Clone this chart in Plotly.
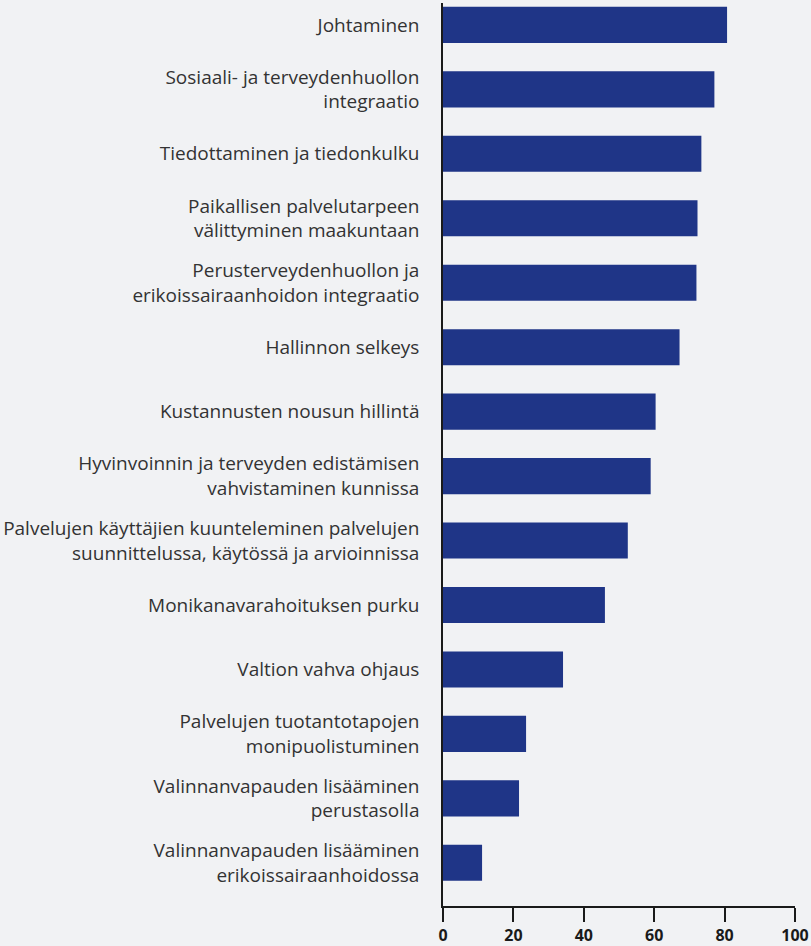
import plotly.graph_objects as go

categories = [
    "Johtaminen",
    "Sosiaali- ja terveydenhuollon<br>integraatio",
    "Tiedottaminen ja tiedonkulku",
    "Paikallisen palvelutarpeen<br>välittyminen maakuntaan",
    "Perusterveydenhuollon ja<br>erikoissairaanhoidon integraatio",
    "Hallinnon selkeys",
    "Kustannusten nousun hillintä",
    "Hyvinvoinnin ja terveyden edistämisen<br>vahvistaminen kunnissa",
    "Palvelujen käyttäjien kuunteleminen palvelujen<br>suunnittelussa, käytössä ja arvioinnissa",
    "Monikanavarahoituksen purku",
    "Valtion vahva ohjaus",
    "Palvelujen tuotantotapojen<br>monipuolistuminen",
    "Valinnanvapauden lisääminen<br>perustasolla",
    "Valinnanvapauden lisääminen<br>erikoissairaanhoidossa",
]
values = [80.7, 77.1, 73.4, 72.3, 72.0, 67.2, 60.4, 59.0, 52.5, 46.0, 34.1, 23.6, 21.6, 11.1]
x_ticks = [0, 20, 40, 60, 80, 100]

fig = go.Figure()
fig.add_trace(go.Bar(
    x=values, y=categories, orientation="h",
    marker=dict(color="#1f3587", line=dict(width=0)),
    width=0.56,
))

fig.update_layout(
    width=811, height=946,
    margin=dict(l=443, r=16, t=3, b=40),
    paper_bgcolor="#f1f2f4",
    plot_bgcolor="#f1f2f4",
    showlegend=False,
    font=dict(family="Open Sans, sans-serif", color="#2a2a2a"),
)
fig.update_yaxes(
    type="category", automargin=False,
    range=[13.67, -0.34],
    showline=True, linecolor="#1a1a1a", linewidth=1.5,
    showgrid=False, zeroline=False,
    ticks="", ticklabelstandoff=18,
    tickfont=dict(size=19, color="#333333"),
)
fig.update_xaxes(
    range=[0, 100], automargin=False,
    tickvals=x_ticks,
    showline=True, linecolor="#1a1a1a", linewidth=1.5,
    showgrid=False, zeroline=False,
    ticks="outside", ticklen=14, tickwidth=1.5, tickcolor="#1a1a1a",
    tickfont=dict(size=16, color="#1a1a1a", weight="bold"),
)

fig.write_html(
    "out.html",
    config={"displayModeBar": False},
    post_script="document.body.style.margin='0';",
)
